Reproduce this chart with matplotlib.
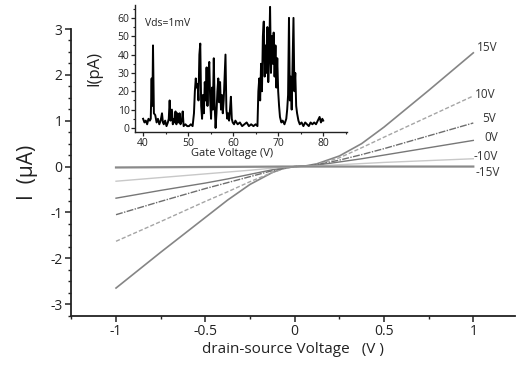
import matplotlib
matplotlib.use("Agg")
import matplotlib.pyplot as plt
from matplotlib.ticker import MultipleLocator, FuncFormatter

plt.rcParams['font.family'] = ['Open Sans', 'DejaVu Sans']

# ---- main I-V data (drain-source voltage in V, current in uA) ----
vds = [-1.0, -0.75, -0.5, -0.375, -0.25, -0.125, -0.0625, 0.0,
       0.0625, 0.125, 0.25, 0.375, 0.5, 0.75, 1.0]
i_15 = [-2.65, -1.87, -1.11, -0.73, -0.39, -0.13, -0.04, 0.0,
        0.015, 0.06, 0.23, 0.50, 0.86, 1.66, 2.48]
i_10 = [-1.63, -1.20, -0.76, -0.55, -0.33, -0.13, -0.05, 0.0,
        0.01, 0.05, 0.19, 0.41, 0.64, 1.09, 1.54]
i_5 = [-1.05, -0.76, -0.48, -0.35, -0.22, -0.09, -0.035, 0.0,
       0.01, 0.04, 0.14, 0.26, 0.39, 0.67, 0.95]
i_0 = [-0.69, -0.52, -0.36, -0.27, -0.17, -0.07, -0.03, 0.0,
       0.01, 0.03, 0.10, 0.17, 0.25, 0.41, 0.57]
i_m10 = [-0.32, -0.24, -0.16, -0.12, -0.08, -0.035, -0.015, 0.0,
         0.005, 0.015, 0.04, 0.065, 0.09, 0.13, 0.17]
i_m15 = [-0.02, -0.015, -0.01, -0.008, -0.005, -0.002, 0.0, 0.0,
         0.0, 0.0, 0.0, 0.0, 0.0, 0.0, 0.0]
gate_labels = ['15V', '10V', '5V', '0V', '-10V', '-15V']

# ---- inset data (gate voltage in V, current in pA) ----
gate_v = [40.0, 40.3, 40.6, 40.9, 41.2, 41.5, 41.7, 41.9, 42.0, 42.1,
          42.2, 42.4, 42.7, 43.0, 43.3, 43.6, 43.9, 44.2, 44.4, 44.6,
          44.9, 45.2, 45.5, 45.7, 45.9, 46.1, 46.4, 46.6, 46.8, 47.0,
          47.2, 47.4, 47.6, 47.9, 48.1, 48.3, 48.6, 48.8, 49.0,
          49.4, 49.8, 50.2, 50.6, 51.0, 51.3, 51.5, 51.7, 51.9, 52.1,
          52.3, 52.5, 52.7, 52.9, 53.1, 53.3, 53.5, 53.7, 53.9, 54.1,
          54.3, 54.5, 54.7, 54.9, 55.1, 55.3, 55.5, 55.7, 55.9, 56.1,
          56.3, 56.5, 56.7, 56.9, 57.1, 57.3, 57.5, 57.7, 57.9, 58.1,
          58.3, 58.5, 58.7, 58.9, 59.1, 59.3, 59.5, 59.7, 59.9, 60.2,
          60.5, 61.0, 61.5, 62.0, 62.5, 63.0, 63.5, 64.0, 64.5, 65.0,
          65.4, 65.6, 65.8, 66.0, 66.2, 66.4, 66.6, 66.8, 67.0, 67.2,
          67.4, 67.6, 67.8, 68.0, 68.2, 68.4, 68.6, 68.8, 69.0, 69.2,
          69.4, 69.6, 69.8, 70.0, 70.2, 70.4, 70.7, 71.0, 71.4, 71.8,
          72.0, 72.2, 72.4, 72.6, 72.8, 73.0, 73.2, 73.4, 73.6, 73.8,
          74.0, 74.2, 74.5, 74.8, 75.2, 75.6, 76.0, 76.4, 76.8, 77.2,
          77.6, 78.0, 78.4, 78.8, 79.2, 79.5, 79.8, 80.0]
current_pa = [5, 3, 4, 2, 5, 4, 5, 27, 12, 20,
              45, 8, 7, 3, 5, 2, 4, 8, 3, 2,
              4, 1, 3, 5, 15, 4, 10, 2, 5, 3,
              9, 2, 8, 3, 8, 2, 4, 9, 1,
              2, 1, 1, 2, 1, 8, 20, 27, 22, 24,
              15, 40, 46, 12, 5, 18, 8, 25, 15, 33,
              12, 30, 36, 15, 5, 22, 10, 38, 12, 0,
              8, 20, 27, 14, 25, 10, 18, 8, 15, 28,
              40, 10, 5, 8, 4, 10, 17, 5, 3, 2,
              4, 2, 3, 1, 2, 3, 1, 2, 1, 2,
              1, 20, 27, 15, 35, 20, 50, 58, 28, 45,
              30, 55, 25, 40, 66, 30, 50, 35, 52, 28,
              45, 22, 38, 20, 12, 6, 3, 4, 2, 5,
              10, 18, 60, 15, 28, 10, 35, 60, 20, 30,
              12, 8, 4, 2, 3, 1, 3, 2, 1, 3,
              2, 3, 2, 4, 6, 3, 5, 4]

fig = plt.figure(figsize=(5.16, 3.69), dpi=100)
ax = fig.add_axes([0.1376, 0.1436, 0.861, 0.7778])

series = [i_15, i_10, i_5, i_0, i_m10, i_m15]
styles = [
    dict(color='#858585', lw=1.2, ls='-'),
    dict(color='#a5a5a5', lw=1.0, ls=(0, (3, 1.5))),
    dict(color='#6e6e6e', lw=1.0, ls=(0, (5, 1, 1, 1))),
    dict(color='#777777', lw=1.0, ls='-'),
    dict(color='#c8c8c8', lw=1.0, ls='-'),
    dict(color='#8a8a8a', lw=1.6, ls='-'),
]
for ys, st in zip(series, styles):
    ax.plot(vds, ys, **st)

label_pos = [(1.02, 2.6), (1.01, 1.57), (1.05, 1.05), (1.06, 0.63), (1.0, 0.22), (1.01, -0.13)]
for lab, (lx, ly) in zip(gate_labels, label_pos):
    ax.text(lx, ly, lab, fontsize=8.5, color='#333333', ha='left', va='center')

ax.set_xlim(-1.252, 1.235)
ax.set_ylim(-3.26, 3.0)
ax.xaxis.set_major_locator(MultipleLocator(0.5))
ax.xaxis.set_minor_locator(MultipleLocator(0.25))
ax.yaxis.set_major_locator(MultipleLocator(1))
ax.yaxis.set_minor_locator(MultipleLocator(0.25))
ax.xaxis.set_major_formatter(FuncFormatter(lambda v, p: '%g' % v))
ax.yaxis.set_major_formatter(FuncFormatter(lambda v, p: '%g' % v))
for s in ['top', 'right']:
    ax.spines[s].set_visible(False)
for s in ['left', 'bottom']:
    ax.spines[s].set_linewidth(1.3)
    ax.spines[s].set_color('#222222')
ax.tick_params(which='major', direction='out', length=4, width=1.1, labelsize=10, colors='#222222', pad=2)
ax.tick_params(which='minor', direction='out', length=2, width=1.0, colors='#222222')
ax.set_xlabel('drain-source Voltage   (V )', fontsize=11, color='#222222', labelpad=2)
ax.set_ylabel('I  (µA)', fontsize=15, color='#222222', labelpad=9)

# ---- inset ----
ins = fig.add_axes([0.2616, 0.6423, 0.411, 0.344])
ins.patch.set_alpha(0)
ins.plot(gate_v, current_pa, color='black', lw=1.4)
ins.set_xlim(38.2, 85.3)
ins.set_ylim(-2.2, 67)
ins.xaxis.set_major_locator(MultipleLocator(10))
ins.xaxis.set_minor_locator(MultipleLocator(5))
ins.yaxis.set_major_locator(MultipleLocator(10))
ins.yaxis.set_minor_locator(MultipleLocator(5))
for s in ['top', 'right']:
    ins.spines[s].set_visible(False)
for s in ['left', 'bottom']:
    ins.spines[s].set_linewidth(1.0)
    ins.spines[s].set_color('#222222')
ins.tick_params(which='major', direction='out', length=3, width=0.9, labelsize=7.5, colors='#222222', pad=1)
ins.tick_params(which='minor', direction='out', length=1.5, width=0.8, colors='#222222')
ins.set_xlabel('Gate Voltage (V)', fontsize=8, color='#222222', labelpad=1)
ins.xaxis.set_label_coords(0.46, -0.13)
ins.set_ylabel('I(pA)', fontsize=12, color='#222222', labelpad=2)
ins.yaxis.set_label_coords(-0.155, 0.5)
ins.text(40.4, 57, 'Vds=1mV', fontsize=7.5, color='#222222', ha='left', va='center')

fig.savefig('out.png', dpi=100)
